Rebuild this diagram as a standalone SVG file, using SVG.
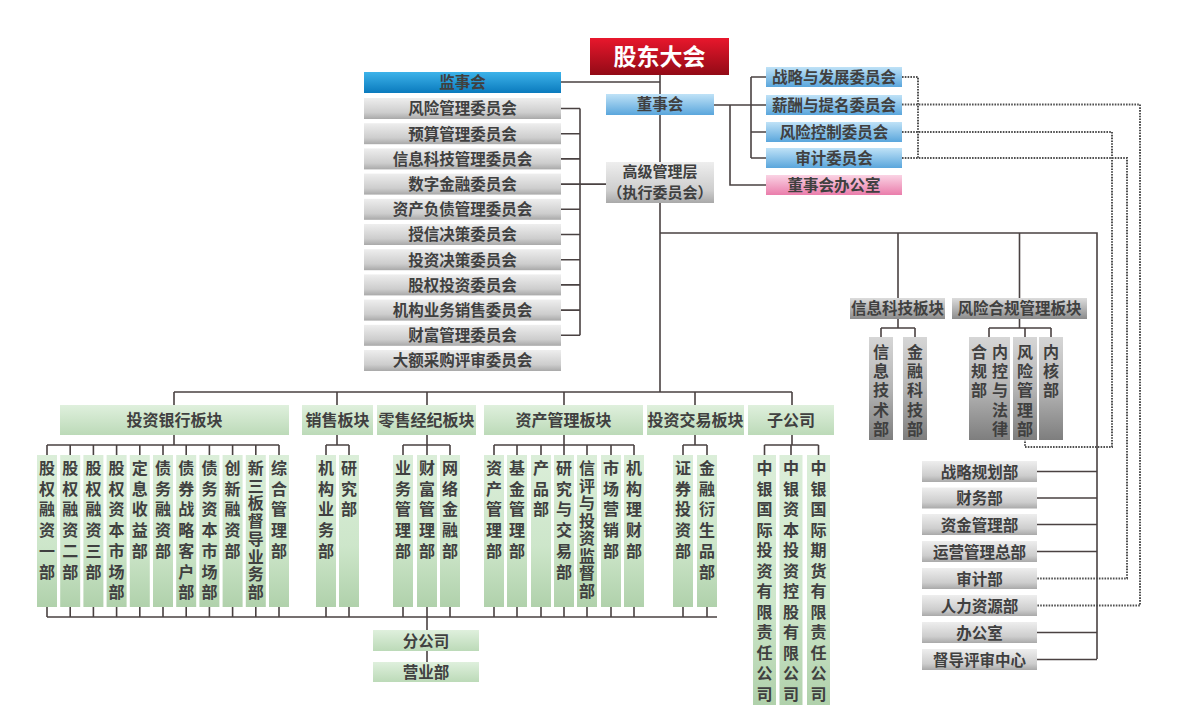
<svg xmlns="http://www.w3.org/2000/svg" width="1177" height="715" viewBox="0 0 1177 715">
<defs>
<linearGradient id="gRed" x1="0" y1="0" x2="0" y2="1"><stop offset="0" stop-color="#e8172c"/><stop offset="1" stop-color="#920a16"/></linearGradient>
<linearGradient id="gBlue" x1="0" y1="0" x2="0" y2="1"><stop offset="0" stop-color="#3db3ea"/><stop offset="1" stop-color="#0a7abd"/></linearGradient>
<linearGradient id="gLBlue" x1="0" y1="0" x2="0" y2="1"><stop offset="0" stop-color="#bfe2f7"/><stop offset="1" stop-color="#5aa6dc"/></linearGradient>
<linearGradient id="gPink" x1="0" y1="0" x2="0" y2="1"><stop offset="0" stop-color="#fad3e4"/><stop offset="1" stop-color="#ea7dab"/></linearGradient>
<linearGradient id="gGray" x1="0" y1="0" x2="0" y2="1"><stop offset="0" stop-color="#eeeeee"/><stop offset="0.7" stop-color="#cdcdcd"/><stop offset="1" stop-color="#a9a9a9"/></linearGradient>
<linearGradient id="gDGray" x1="0" y1="0" x2="0" y2="1"><stop offset="0" stop-color="#dcdcdc"/><stop offset="1" stop-color="#8c8c8c"/></linearGradient>
<linearGradient id="gDGrayV" x1="0" y1="0" x2="0" y2="1"><stop offset="0" stop-color="#d6d6d6"/><stop offset="0.5" stop-color="#b5b5b5"/><stop offset="1" stop-color="#7e7e7e"/></linearGradient>
<linearGradient id="gGreen" x1="0" y1="0" x2="0" y2="1"><stop offset="0" stop-color="#dff0dd"/><stop offset="1" stop-color="#bcdab8"/></linearGradient>
<linearGradient id="gGreenV" x1="0" y1="0" x2="0" y2="1"><stop offset="0" stop-color="#dbeed9"/><stop offset="0.6" stop-color="#cde6ca"/><stop offset="1" stop-color="#b0d1ab"/></linearGradient>
</defs>
<style>
.t{font-family:"Noto Sans CJK SC","Noto Sans",sans-serif;font-weight:bold;fill:#404040;text-anchor:middle;font-size:15.5px}
.v{font-size:16px}
.w{fill:#ffffff;font-size:23px}
.s{font-size:15px}
.ln{stroke:#4a4242;stroke-width:1.6;fill:none}
.dt{stroke:#505050;stroke-width:2;stroke-dasharray:1.6 1.2;fill:none}
.gr{fill:url(#gGray)}
.dg{fill:url(#gDGray)}
.dgv{fill:url(#gDGrayV)}
.gn{fill:url(#gGreen)}
.gnv{fill:url(#gGreenV)}
.lb{fill:url(#gLBlue)}
</style>
<rect width="1177" height="715" fill="#ffffff"/>

<g id="connectors">
<path class="ln" d="M660 75V94M660 115V162M660 203V392M561 82H660"/>
<path class="ln" d="M561 108.5H580M561 133.7H580M561 158.9H580M561 184.1H606M561 209.3H580M561 234.5H580M561 259.7H580M561 284.9H580M561 310.1H580M561 335.3H580M580 108.5V335.3"/>
<path class="ln" d="M714 105H751M751 77V158M751 77H766M751 105H766M751 132H766M751 158H766M730 105V185H766"/>
<path class="ln" d="M660 233H1097V659M898 233V298M1019.5 233V298"/>
<path class="ln" d="M898 319V328M881 328H915M881 328V337M915 328V337M1019.5 319V328M989 328H1051M989 328V337M1025 328V337M1051 328V337"/>
<path class="ln" d="M1037 471.5H1097M1037 498H1097M1037 524.5H1097M1037 551.5H1097M1037 632.5H1097M1037 659.5H1097"/>
<path class="ln" d="M174 392H792M174 392V405M337 392V405M427 392V405M564 392V405M695 392V405M792 392V405"/>
<path class="ln" d="M174 435V445M47 445H279M337 435V445M326 445H349M427 435V445M403 445H450M564 435V445M494 445H634M695 435V445M683 445H707M792 435V445M764.5 445H818.5"/>
<path class="ln" d="M47 445V455M70.2 445V455M93.4 445V455M116.6 445V455M139.8 445V455M163 445V455M186.2 445V455M209.4 445V455M232.6 445V455M255.8 445V455M279 445V455M326 445V455M349 445V455M403 445V455M427 445V455M450 445V455M494 445V455M517 445V455M541 445V455M564 445V455M587 445V455M611 445V455M634 445V455M683 445V455M707 445V455M764.5 445V455M791 445V455M818.5 445V455"/>
<path class="ln" d="M47 607V617M70.2 607V617M93.4 607V617M116.6 607V617M139.8 607V617M163 607V617M186.2 607V617M209.4 607V617M232.6 607V617M255.8 607V617M279 607V617M326 607V617M349 607V617M403 607V617M427 607V617M450 607V617M494 607V617M517 607V617M541 607V617M564 607V617M587 607V617M611 607V617M634 607V617M683 607V617M707 607V617M47 617H717M427 617V630M427 651V662"/>
<path class="dt" d="M902 77H918V158"/>
<path class="dt" d="M902 104.5H1140V605.5H1037"/>
<path class="dt" d="M902 132H1112V447H1025V440"/>
<path class="dt" d="M902 158H1127V578.5H1037"/>
</g>

<g id="n-gudong"><rect x="590" y="38" width="139" height="37" fill="url(#gRed)"/><text class="t w" x="659.5" y="65">股东大会</text></g>
<g id="n-jianshi"><rect x="364" y="72" width="197" height="21" fill="url(#gBlue)"/><text class="t" x="462.5" y="88" fill="#2b3640">监事会</text></g>
<g id="n-dongshi"><rect x="606" y="94" width="108" height="21" class="lb"/><text class="t" x="660" y="110">董事会</text></g>
<g id="n-gaoji"><rect x="606" y="162" width="108" height="41" class="gr"/><text class="t s" x="660" y="177">高级管理层</text><text class="t s" x="660" y="197.5">（执行委员会）</text></g>

<g id="n-c1"><rect x="364" y="98" width="197" height="21" class="gr"/><text class="t" x="462.5" y="114.4">风险管理委员会</text></g>
<g id="n-c2"><rect x="364" y="123.2" width="197" height="21" class="gr"/><text class="t" x="462.5" y="139.6">预算管理委员会</text></g>
<g id="n-c3"><rect x="364" y="148.4" width="197" height="21" class="gr"/><text class="t" x="462.5" y="164.8">信息科技管理委员会</text></g>
<g id="n-c4"><rect x="364" y="173.6" width="197" height="21" class="gr"/><text class="t" x="462.5" y="190">数字金融委员会</text></g>
<g id="n-c5"><rect x="364" y="198.8" width="197" height="21" class="gr"/><text class="t" x="462.5" y="215.2">资产负债管理委员会</text></g>
<g id="n-c6"><rect x="364" y="224" width="197" height="21" class="gr"/><text class="t" x="462.5" y="240.4">授信决策委员会</text></g>
<g id="n-c7"><rect x="364" y="249.2" width="197" height="21" class="gr"/><text class="t" x="462.5" y="265.6">投资决策委员会</text></g>
<g id="n-c8"><rect x="364" y="274.4" width="197" height="21" class="gr"/><text class="t" x="462.5" y="290.8">股权投资委员会</text></g>
<g id="n-c9"><rect x="364" y="299.6" width="197" height="21" class="gr"/><text class="t" x="462.5" y="316">机构业务销售委员会</text></g>
<g id="n-c10"><rect x="364" y="324.8" width="197" height="21" class="gr"/><text class="t" x="462.5" y="341.2">财富管理委员会</text></g>
<g id="n-c11"><rect x="364" y="350" width="197" height="21" class="gr"/><text class="t" x="462.5" y="366.4">大额采购评审委员会</text></g>

<g id="n-r1"><rect x="766" y="67" width="136" height="20" class="lb"/><text class="t" x="834" y="83">战略与发展委员会</text></g>
<g id="n-r2"><rect x="766" y="95" width="136" height="20" class="lb"/><text class="t" x="834" y="111">薪酬与提名委员会</text></g>
<g id="n-r3"><rect x="766" y="122" width="136" height="20" class="lb"/><text class="t" x="834" y="138">风险控制委员会</text></g>
<g id="n-r4"><rect x="766" y="148" width="136" height="20" class="lb"/><text class="t" x="834" y="164">审计委员会</text></g>
<g id="n-r5"><rect x="766" y="175" width="136" height="20" fill="url(#gPink)"/><text class="t" x="834" y="191">董事会办公室</text></g>

<g id="n-xxkj"><rect x="850" y="298" width="95" height="21" class="dg"/><text class="t" x="897.5" y="314">信息科技板块</text></g>
<g id="n-fxhg"><rect x="952" y="298" width="135" height="21" class="dg"/><text class="t" x="1019.5" y="314">风险合规管理板块</text></g>
<g id="n-xxjs"><rect x="869" y="337" width="24" height="103" class="dgv"/><text class="t v" x="881 881 881 881 881" y="358 377.2 396.4 415.6 434.8">信息技术部</text></g>
<g id="n-jrkj"><rect x="903" y="337" width="24" height="103" class="dgv"/><text class="t v" x="915 915 915 915 915" y="358 377.2 396.4 415.6 434.8">金融科技部</text></g>
<g id="n-hgb"><rect x="969" y="337" width="41" height="103" class="dgv"/><text class="t v" x="979 979 979" y="358 377.2 396.4">合规部</text><text class="t v" x="1000 1000 1000 1000 1000" y="358 377.2 396.4 415.6 434.8">内控与法律</text></g>
<g id="n-fxgl"><rect x="1013" y="337" width="24" height="103" class="dgv"/><text class="t v" x="1025 1025 1025 1025 1025" y="358 377.2 396.4 415.6 434.8">风险管理部</text></g>
<g id="n-nhb"><rect x="1039" y="337" width="24" height="103" class="dgv"/><text class="t v" x="1051 1051 1051" y="358 377.2 396.4">内核部</text></g>

<g id="n-d1"><rect x="922" y="461" width="115" height="21" class="gr"/><text class="t" x="979.5" y="477.5">战略规划部</text></g>
<g id="n-d2"><rect x="922" y="487.5" width="115" height="21" class="gr"/><text class="t" x="979.5" y="504">财务部</text></g>
<g id="n-d3"><rect x="922" y="514" width="115" height="21" class="gr"/><text class="t" x="979.5" y="530.5">资金管理部</text></g>
<g id="n-d4"><rect x="922" y="541" width="115" height="21" class="gr"/><text class="t" x="979.5" y="557.5">运营管理总部</text></g>
<g id="n-d5"><rect x="922" y="568" width="115" height="21" class="gr"/><text class="t" x="979.5" y="584.5">审计部</text></g>
<g id="n-d6"><rect x="922" y="595" width="115" height="21" class="gr"/><text class="t" x="979.5" y="611.5">人力资源部</text></g>
<g id="n-d7"><rect x="922" y="622" width="115" height="21" class="gr"/><text class="t" x="979.5" y="638.5">办公室</text></g>
<g id="n-d8"><rect x="922" y="649" width="115" height="21" class="gr"/><text class="t" x="979.5" y="665.5">督导评审中心</text></g>

<g id="n-ib"><rect x="60" y="405" width="229" height="30" class="gn"/><text class="t v" x="174.5" y="426">投资银行板块</text></g>
<g id="n-xs"><rect x="302" y="405" width="71" height="30" class="gn"/><text class="t v" x="337.5" y="426">销售板块</text></g>
<g id="n-ls"><rect x="377" y="405" width="99" height="30" class="gn"/><text class="t v" x="426.5" y="426">零售经纪板块</text></g>
<g id="n-zg"><rect x="484" y="405" width="159" height="30" class="gn"/><text class="t v" x="563.5" y="426">资产管理板块</text></g>
<g id="n-tj"><rect x="647" y="405" width="97" height="30" class="gn"/><text class="t v" x="695.5" y="426">投资交易板块</text></g>
<g id="n-zgs"><rect x="748" y="405" width="86" height="30" class="gn"/><text class="t v" x="791" y="426">子公司</text></g>

<g id="n-ib1"><rect x="37" y="455" width="20" height="152" class="gnv"/><text class="t v" x="47 47 47 47 47 47" y="474 494.7 515.4 536.1 556.8 577.5">股权融资一部</text></g>
<g id="n-ib2"><rect x="60.2" y="455" width="20" height="152" class="gnv"/><text class="t v" x="70.2 70.2 70.2 70.2 70.2 70.2" y="474 494.7 515.4 536.1 556.8 577.5">股权融资二部</text></g>
<g id="n-ib3"><rect x="83.4" y="455" width="20" height="152" class="gnv"/><text class="t v" x="93.4 93.4 93.4 93.4 93.4 93.4" y="474 494.7 515.4 536.1 556.8 577.5">股权融资三部</text></g>
<g id="n-ib4"><rect x="106.6" y="455" width="20" height="152" class="gnv"/><text class="t v" x="116.6 116.6 116.6 116.6 116.6 116.6 116.6" y="474 494.7 515.4 536.1 556.8 577.5 598.2">股权资本市场部</text></g>
<g id="n-ib5"><rect x="129.8" y="455" width="20" height="152" class="gnv"/><text class="t v" x="139.8 139.8 139.8 139.8 139.8" y="474 494.7 515.4 536.1 556.8">定息收益部</text></g>
<g id="n-ib6"><rect x="153" y="455" width="20" height="152" class="gnv"/><text class="t v" x="163 163 163 163 163" y="474 494.7 515.4 536.1 556.8">债务融资部</text></g>
<g id="n-ib7"><rect x="176.2" y="455" width="20" height="152" class="gnv"/><text class="t v" x="186.2 186.2 186.2 186.2 186.2 186.2 186.2" y="474 494.7 515.4 536.1 556.8 577.5 598.2">债券战略客户部</text></g>
<g id="n-ib8"><rect x="199.4" y="455" width="20" height="152" class="gnv"/><text class="t v" x="209.4 209.4 209.4 209.4 209.4 209.4 209.4" y="474 494.7 515.4 536.1 556.8 577.5 598.2">债务资本市场部</text></g>
<g id="n-ib9"><rect x="222.6" y="455" width="20" height="152" class="gnv"/><text class="t v" x="232.6 232.6 232.6 232.6 232.6" y="474 494.7 515.4 536.1 556.8">创新融资部</text></g>
<g id="n-ib10"><rect x="245.8" y="455" width="20" height="152" class="gnv"/><text class="t v" x="255.8 255.8 255.8 255.8 255.8 255.8 255.8 255.8" y="474 491.7 509.4 527.1 544.8 562.5 580.2 597.9">新三板督导业务部</text></g>
<g id="n-ib11"><rect x="269" y="455" width="20" height="152" class="gnv"/><text class="t v" x="279 279 279 279 279" y="474 494.7 515.4 536.1 556.8">综合管理部</text></g>

<g id="n-xs1"><rect x="316" y="455" width="20" height="152" class="gnv"/><text class="t v" x="326 326 326 326 326" y="474 494.7 515.4 536.1 556.8">机构业务部</text></g>
<g id="n-xs2"><rect x="339" y="455" width="20" height="152" class="gnv"/><text class="t v" x="349 349 349" y="474 494.7 515.4">研究部</text></g>

<g id="n-ls1"><rect x="393" y="455" width="20" height="152" class="gnv"/><text class="t v" x="403 403 403 403 403" y="474 494.7 515.4 536.1 556.8">业务管理部</text></g>
<g id="n-ls2"><rect x="417" y="455" width="20" height="152" class="gnv"/><text class="t v" x="427 427 427 427 427" y="474 494.7 515.4 536.1 556.8">财富管理部</text></g>
<g id="n-ls3"><rect x="440" y="455" width="20" height="152" class="gnv"/><text class="t v" x="450 450 450 450 450" y="474 494.7 515.4 536.1 556.8">网络金融部</text></g>

<g id="n-zg1"><rect x="484" y="455" width="20" height="152" class="gnv"/><text class="t v" x="494 494 494 494 494" y="474 494.7 515.4 536.1 556.8">资产管理部</text></g>
<g id="n-zg2"><rect x="507" y="455" width="20" height="152" class="gnv"/><text class="t v" x="517 517 517 517 517" y="474 494.7 515.4 536.1 556.8">基金管理部</text></g>
<g id="n-zg3"><rect x="531" y="455" width="20" height="152" class="gnv"/><text class="t v" x="541 541 541" y="474 494.7 515.4">产品部</text></g>
<g id="n-zg4"><rect x="554" y="455" width="20" height="152" class="gnv"/><text class="t v" x="564 564 564 564 564 564" y="474 494.7 515.4 536.1 556.8 577.5">研究与交易部</text></g>
<g id="n-zg5"><rect x="577" y="455" width="20" height="152" class="gnv"/><text class="t v" x="587 587 587 587 587 587 587 587" y="474 491.5 509 526.5 544 561.5 579 596.5">信评与投资监督部</text></g>
<g id="n-zg6"><rect x="601" y="455" width="20" height="152" class="gnv"/><text class="t v" x="611 611 611 611 611" y="474 494.7 515.4 536.1 556.8">市场营销部</text></g>
<g id="n-zg7"><rect x="624" y="455" width="20" height="152" class="gnv"/><text class="t v" x="634 634 634 634 634" y="474 494.7 515.4 536.1 556.8">机构理财部</text></g>

<g id="n-tj1"><rect x="673" y="455" width="20" height="152" class="gnv"/><text class="t v" x="683 683 683 683 683" y="474 494.7 515.4 536.1 556.8">证券投资部</text></g>
<g id="n-tj2"><rect x="697" y="455" width="20" height="152" class="gnv"/><text class="t v" x="707 707 707 707 707 707" y="474 494.7 515.4 536.1 556.8 577.5">金融衍生品部</text></g>

<g id="n-zgs1"><rect x="753" y="455" width="23" height="250" class="gnv"/><text class="t v" x="764.5 764.5 764.5 764.5 764.5 764.5 764.5 764.5 764.5 764.5 764.5 764.5" y="474 494.5 515 535.5 556 576.5 597 617.5 638 658.5 679 699.5">中银国际投资有限责任公司</text></g>
<g id="n-zgs2"><rect x="779.5" y="455" width="23" height="250" class="gnv"/><text class="t v" x="791 791 791 791 791 791 791 791 791 791 791 791" y="474 494.5 515 535.5 556 576.5 597 617.5 638 658.5 679 699.5">中银资本投资控股有限公司</text></g>
<g id="n-zgs3"><rect x="807" y="455" width="23" height="250" class="gnv"/><text class="t v" x="818.5 818.5 818.5 818.5 818.5 818.5 818.5 818.5 818.5 818.5 818.5 818.5" y="474 494.5 515 535.5 556 576.5 597 617.5 638 658.5 679 699.5">中银国际期货有限责任公司</text></g>

<g id="n-fgs"><rect x="373" y="630" width="106" height="21" class="gn"/><text class="t" x="426" y="646.5">分公司</text></g>
<g id="n-yyb"><rect x="373" y="662" width="106" height="20" class="gn"/><text class="t" x="426" y="678">营业部</text></g>
</svg>
